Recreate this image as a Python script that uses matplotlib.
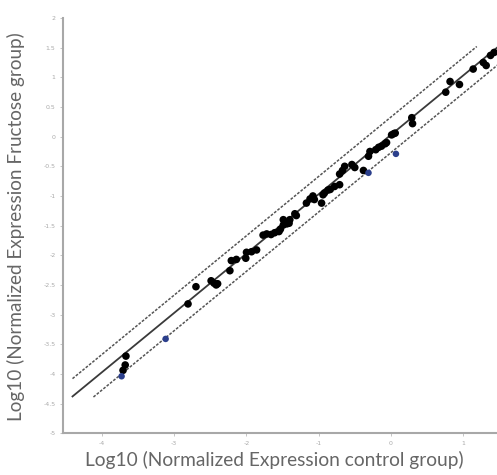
import matplotlib
matplotlib.use("Agg")
import matplotlib.pyplot as plt
import numpy as np

# Data (log10 normalized expression): control (x) vs fructose (y)
black_x = [-3.67, -3.68, -3.71,
           -2.81, -2.70, -2.49, -2.45, -2.40, -2.42,
           -2.23, -2.21, -2.14, -2.00, -2.01, -1.93, -1.86,
           -1.77, -1.72, -1.66, -1.61, -1.55, -1.53, -1.49, -1.49, -1.44, -1.41, -1.40, -1.33, -1.31,
           -1.17, -1.12, -1.08, -1.06, -0.96, -0.94, -0.92, -0.87, -0.84, -0.78, -0.71, -0.71, -0.67,
           -0.64, -0.54, -0.50, -0.38, -0.31, -0.29, -0.21, -0.17, -0.13, -0.08, -0.06, 0.01, 0.04,
           0.06, 0.29, 0.30, 0.76, 0.82, 0.95, 1.14, 1.28, 1.32, 1.38, 1.43]
black_y = [-3.70, -3.85, -3.94,
           -2.82, -2.53, -2.43, -2.47, -2.48, -2.50,
           -2.26, -2.09, -2.07, -1.95, -2.05, -1.94, -1.91,
           -1.66, -1.64, -1.65, -1.62, -1.60, -1.56, -1.49, -1.40, -1.47, -1.46, -1.40, -1.30, -1.33,
           -1.12, -1.05, -1.00, -1.06, -1.12, -0.98, -0.95, -0.90, -0.89, -0.84, -0.81, -0.63, -0.57,
           -0.50, -0.47, -0.52, -0.57, -0.33, -0.25, -0.22, -0.18, -0.16, -0.12, -0.10, 0.03, 0.05,
           0.06, 0.32, 0.22, 0.75, 0.93, 0.88, 1.14, 1.25, 1.20, 1.37, 1.42]
blue_x = [-3.73, -3.12, -0.31, 0.07]
blue_y = [-4.04, -3.41, -0.61, -0.29]

# Reference lines: y = x + intercept
fit_intercept = 0.03
band_upper = 0.33
band_lower = -0.27
fit_range = [-4.41, 1.6]
upper_range = [-4.41, 1.19]
lower_range = [-4.12, 1.6]

xticks = [-4, -3, -2, -1, 0, 1]
yticks = [-5, -4.5, -4, -3.5, -3, -2.5, -2, -1.5, -1, -0.5, 0, 0.5, 1, 1.5, 2]

fig = plt.figure(figsize=(4.97, 4.75), dpi=100)
ax = fig.add_axes([0.127, 0.088, 0.873, 0.874])

lc = "#3a3a3a"
xr = np.array(fit_range)
ax.plot(xr, xr + fit_intercept, color=lc, lw=1.3, zorder=1)
xu = np.array(upper_range)
ax.plot(xu, xu + band_upper, color="#555555", lw=1.1, ls=(0, (1.8, 1.0)), zorder=1)
xl = np.array(lower_range)
ax.plot(xl, xl + band_lower, color="#555555", lw=1.1, ls=(0, (1.8, 1.0)), zorder=1)

ax.scatter(black_x, black_y, s=30, color="black", edgecolors="none", zorder=3)
ax.scatter(blue_x, blue_y, s=22, color="#2b3f8c", edgecolors="none", zorder=3)

ax.set_xlim(-4.54, 1.47)
ax.set_ylim(-5, 2)
ax.set_xticks(xticks)
ax.set_yticks(yticks)
ax.set_xticklabels([f"{t:g}" for t in xticks])
ax.set_yticklabels([f"{t:g}" for t in yticks])

for s in ["top", "right"]:
    ax.spines[s].set_visible(False)
for s in ["left", "bottom"]:
    ax.spines[s].set_color("#a8a8a8")
    ax.spines[s].set_linewidth(1.5)

ax.tick_params(axis="both", length=2.5, width=0.6, color="#bbbbbb",
               labelsize=4.5, labelcolor="#aaaaaa", pad=3)

ax.set_xlabel("Log10 (Normalized Expression control group)", fontsize=13.8,
              color="#666666", family="Lato")
ax.xaxis.set_label_coords(0.486, -0.042)
ax.set_ylabel("Log10 (Normalized Expression Fructose group)", fontsize=13.6,
              color="#666666", family="Lato")
ax.yaxis.set_label_coords(-0.088, 0.497)

fig.savefig("out.png", dpi=100)
